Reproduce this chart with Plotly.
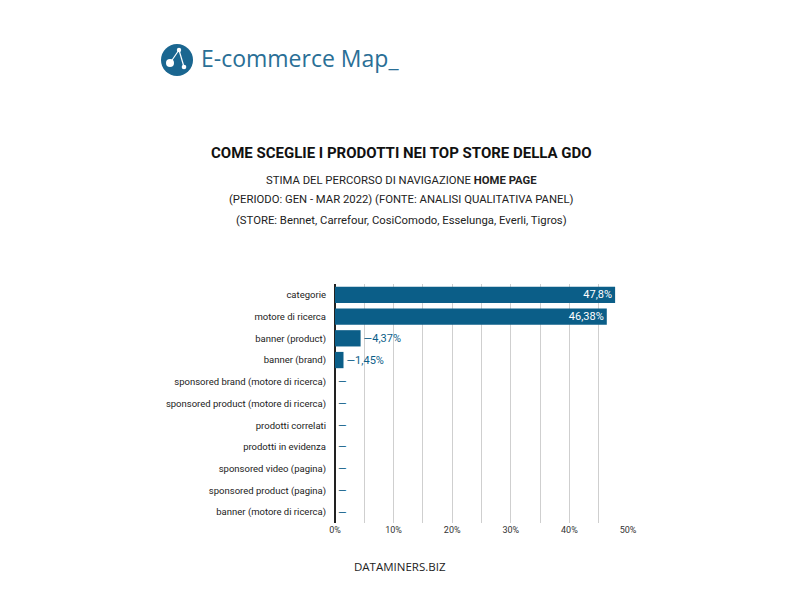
import plotly.graph_objects as go

categories = ["categorie", "motore di ricerca", "banner (product)", "banner (brand)",
              "sponsored brand (motore di ricerca)", "sponsored product (motore di ricerca)",
              "prodotti correlati", "prodotti in evidenza", "sponsored video (pagina)",
              "sponsored product (pagina)", "banner (motore di ricerca)"]
values = [47.8, 46.38, 4.37, 1.45, 0, 0, 0, 0, 0, 0, 0]
value_labels = ["47,8%", "46,38%", "—4,37%", "—1,45%", "—", "—", "—", "—", "—", "—", "—"]
tick_vals = [0, 5, 10, 15, 20, 25, 30, 35, 40, 45, 50]
tick_text = ["0%", "", "10%", "", "20%", "", "30%", "", "40%", "", "50%"]

BAR = "#0b5e88"
positions = ["inside" if v > 20 else "outside" for v in values]
tcolors = ["white" if v > 20 else BAR for v in values]

fig = go.Figure(go.Bar(
    x=values, y=categories, orientation="h",
    marker=dict(color=BAR, line=dict(width=0)),
    width=0.75,
    text=value_labels, textposition=positions, insidetextanchor="end",
    textfont=dict(color=tcolors, size=11, family="Roboto"),
    constraintext="none", cliponaxis=False, hoverinfo="skip",
))

fig.update_layout(
    width=800, height=600,
    margin=dict(l=335, r=172, t=284, b=77),
    paper_bgcolor="white", plot_bgcolor="white",
    showlegend=False,
    font=dict(family="Roboto", color="#222"),
    xaxis=dict(range=[0, 50], tickvals=tick_vals, ticktext=tick_text,
               showgrid=True, gridcolor="#cfcfcf", gridwidth=1,
               zeroline=True, zerolinecolor="#222", zerolinewidth=1.5,
               showline=False, tickfont=dict(size=9, color="#333"), ticks=""),
    yaxis=dict(autorange="reversed", showgrid=False, showline=False,
               tickfont=dict(size=9.5, color="#222"), ticks="", ticklabelstandoff=8),
)

def px(x): return (x - 335) / (628 - 335)
def py(y): return (600 - 77 - y) / (600 - 77 - 284)

# Logo
fig.add_shape(type="circle", xref="paper", yref="paper",
              x0=px(161), x1=px(193), y0=py(76), y1=py(44),
              fillcolor="#1a6690", line=dict(width=0))
for (x0, y0, x1, y1) in [(179, 50, 170, 63), (179, 50, 184, 67)]:
    fig.add_shape(type="line", xref="paper", yref="paper",
                  x0=px(x0), y0=py(y0), x1=px(x1), y1=py(y1),
                  line=dict(color="white", width=1.2))
for (cx, cy, r) in [(179, 50, 2.2), (170, 63, 4), (184, 67, 2.3)]:
    fig.add_shape(type="circle", xref="paper", yref="paper",
                  x0=px(cx - r), x1=px(cx + r), y0=py(cy + r), y1=py(cy - r),
                  fillcolor="white", line=dict(width=0))

fig.add_annotation(xref="paper", yref="paper", x=px(199), y=py(58), xanchor="left", yanchor="middle",
                   text="E-commerce Map_", showarrow=False,
                   font=dict(family="Open Sans", size=23, color="#2a6f96"))

fig.add_annotation(xref="paper", yref="paper", x=px(401), y=py(153), xanchor="center", yanchor="middle",
                   text="<b>COME SCEGLIE I PRODOTTI NEI TOP STORE DELLA GDO</b>", showarrow=False,
                   font=dict(family="Roboto", size=15, color="#111"))
subs = [(180, "STIMA DEL PERCORSO DI NAVIGAZIONE <b>HOME PAGE</b>"),
        (199, "(PERIODO: GEN - MAR 2022) (FONTE: ANALISI QUALITATIVA PANEL)"),
        (221, "(STORE: Bennet, Carrefour, CosiComodo, Esselunga, Everli, Tigros)")]
for y, t in subs:
    fig.add_annotation(xref="paper", yref="paper", x=px(401), y=py(y), xanchor="center", yanchor="middle",
                       text=t, showarrow=False, font=dict(family="Roboto", size=11.3, color="#222"))

fig.add_annotation(xref="paper", yref="paper", x=px(400), y=py(566), xanchor="center", yanchor="middle",
                   text="DATAMINERS.BIZ", showarrow=False,
                   font=dict(family="Open Sans", size=11.5, color="#222"))

fig.write_html("out.html")
